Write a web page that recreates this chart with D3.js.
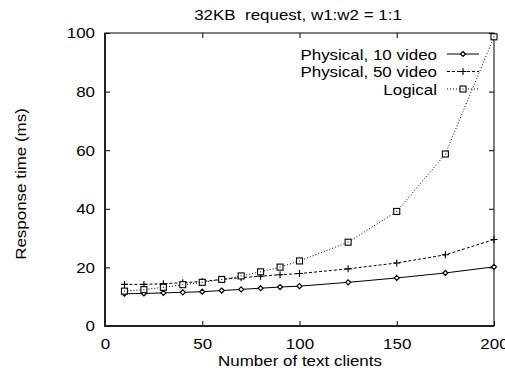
<!DOCTYPE html>
<html>
<head>
<meta charset="utf-8">
<script src="https://cdn.jsdelivr.net/npm/d3@7"></script>
<style>
  body { margin: 0; background: #fff; }
  svg { display: block; font-family: "Liberation Sans", Arial, Helvetica, sans-serif; }
</style>
</head>
<body>
<svg id="chart" width="505" height="370"></svg>
<script>
// Number of text clients
const clients = [10, 20, 30, 40, 50, 60, 70, 80, 90, 100, 125, 150, 175, 200];
// Response time (ms) per configuration
const physical10 = [11.0, 11.1, 11.3, 11.5, 11.7, 12.1, 12.5, 12.9, 13.3, 13.6, 14.9, 16.4, 18.1, 20.2];
const physical50 = [14.2, 14.2, 14.4, 14.8, 15.2, 15.9, 16.5, 17.0, 17.5, 17.9, 19.5, 21.5, 24.3, 29.5];
const logical    = [11.9, 12.4, 13.2, 14.1, 14.9, 15.9, 17.1, 18.5, 20.1, 22.2, 28.6, 39.1, 58.7, 98.7];
const seriesNames = ["Physical, 10 video", "Physical, 50 video", "Logical"];
const xTicks = [0, 50, 100, 150, 200];
const yTicks = [0, 20, 40, 60, 80, 100];
const title = "32KB\u00a0 request, w1:w2 = 1:1";

const svg = d3.select("#chart");
const plotL = 105, plotR = 494, plotT = 33, plotB = 326;
const fontSize = 15;
const stretch = 1.13; // wide-set Helvetica look

const x = d3.scaleLinear().domain([0, 200]).range([plotL, plotR]);
const y = d3.scaleLinear().domain([0, 100]).range([plotB, plotT]);

const series = [
  { name: seriesNames[0], values: physical10, dash: null, marker: "diamond" },
  { name: seriesNames[1], values: physical50, dash: "3,2", marker: "plus" },
  { name: seriesNames[2], values: logical, dash: "1,2", marker: "square" }
];

// Horizontally widened text placed at (tx, ty), optionally rotated
function label(parent, tx, ty, str, anchor, rot) {
  const g = parent.append("g")
    .attr("transform", `translate(${tx},${ty})` + (rot ? ` rotate(${rot})` : "") + ` scale(${stretch},1)`);
  return g.append("text").attr("text-anchor", anchor).attr("font-size", fontSize)
    .attr("fill", "#000").text(str);
}

// Tick marks pointing inward on all four sides
const tickLen = 5;
const gx = svg.append("g");
gx.append("g").attr("transform", `translate(0,${plotB})`)
  .call(d3.axisBottom(x).tickValues(xTicks).tickSize(-tickLen).tickPadding(12).tickFormat(d3.format("d")))
  .call(g => g.select(".domain").remove());
gx.append("g").attr("transform", `translate(0,${plotT})`)
  .call(d3.axisTop(x).tickValues(xTicks).tickSize(-tickLen).tickFormat(""))
  .call(g => g.select(".domain").remove());
gx.append("g").attr("transform", `translate(${plotL},0)`)
  .call(d3.axisLeft(y).tickValues(yTicks).tickSize(-tickLen).tickPadding(10).tickFormat(d3.format("d")))
  .call(g => g.select(".domain").remove());
gx.append("g").attr("transform", `translate(${plotR},0)`)
  .call(d3.axisRight(y).tickValues(yTicks).tickSize(-tickLen).tickFormat(""))
  .call(g => g.select(".domain").remove());
gx.selectAll(".tick line").attr("stroke", "#000").attr("stroke-width", 1);
gx.selectAll(".tick text").each(function () {
  const t = d3.select(this);
  const tx = +(t.attr("x") || 0);
  t.attr("x", tx / stretch).attr("transform", `scale(${stretch},1)`)
    .attr("font-size", fontSize).attr("fill", "#000")
    .attr("font-family", "Liberation Sans, Arial, sans-serif");
});

// Plot frame
svg.append("rect").attr("x", plotL).attr("y", plotT)
  .attr("width", plotR - plotL).attr("height", plotB - plotT)
  .attr("fill", "none").attr("stroke", "#000").attr("stroke-width", 1);
svg.append("path")
  .attr("d", `M${plotL},${plotT}V${plotB}H${plotR}`)
  .attr("fill", "none").attr("stroke", "#222").attr("stroke-width", 2);

// Markers
function drawMarker(g, type, cx, cy) {
  if (type === "diamond") {
    g.append("path").attr("d", `M${cx},${cy - 2.5}L${cx + 2.5},${cy}L${cx},${cy + 2.5}L${cx - 2.5},${cy}Z`)
      .attr("fill", "#fff").attr("stroke", "#000").attr("stroke-width", 1.2);
  } else if (type === "plus") {
    g.append("path").attr("d", `M${cx - 3.5},${cy}H${cx + 3.5}M${cx},${cy - 3.5}V${cy + 3.5}`)
      .attr("stroke", "#000").attr("stroke-width", 1.1);
  } else {
    g.append("rect").attr("x", cx - 3).attr("y", cy - 3).attr("width", 6).attr("height", 6)
      .attr("fill", "#fff").attr("stroke", "#000").attr("stroke-width", 1.1);
    g.append("rect").attr("x", cx - 0.5).attr("y", cy - 0.5).attr("width", 1).attr("height", 1).attr("fill", "#000");
  }
}

const line = d3.line().x(d => x(d[0])).y(d => y(d[1]));
series.forEach(s => {
  const pts = clients.map((c, i) => [c, s.values[i]]);
  const g = svg.append("g");
  g.append("path").attr("d", line(pts)).attr("fill", "none")
    .attr("stroke", "#000").attr("stroke-width", 1)
    .attr("stroke-dasharray", s.dash);
  pts.forEach(p => drawMarker(g, s.marker, x(p[0]), y(p[1])));
});

// Legend
const legX = 437, legY0 = 54, legDy = 17.5;
series.forEach((s, i) => {
  const ly = legY0 + i * legDy;
  label(svg, legX, ly + 5.5, s.name, "end");
  const g = svg.append("g");
  g.append("line").attr("x1", 447).attr("x2", 479).attr("y1", ly).attr("y2", ly)
    .attr("stroke", "#000").attr("stroke-width", 1).attr("stroke-dasharray", s.dash);
  drawMarker(g, s.marker, 463, ly);
});

// Title and axis labels
label(svg, 298, 20, title, "middle");
label(svg, 300, 366, "Number of text clients", "middle");
label(svg, 26, 184, "Response time (ms)", "middle", -90);
</script>
</body>
</html>
